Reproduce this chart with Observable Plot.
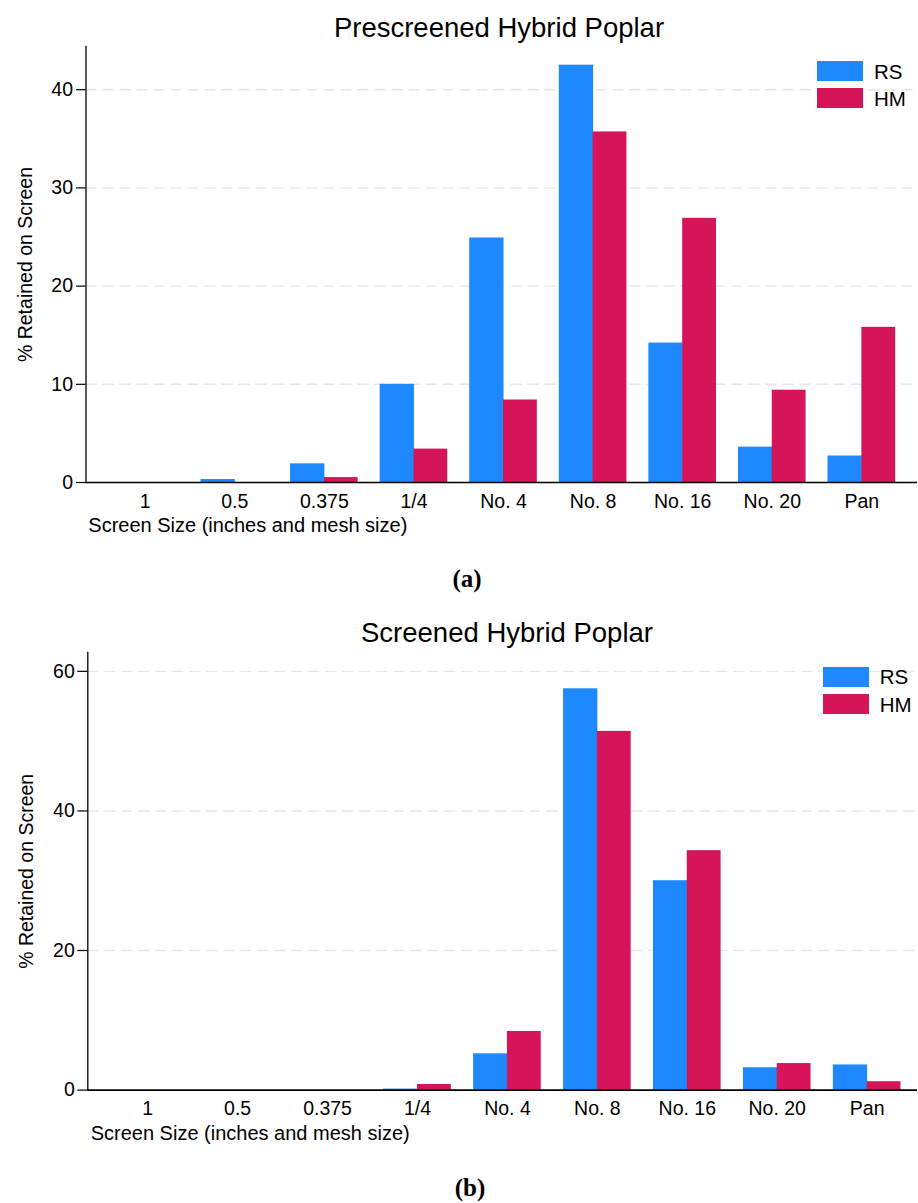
<!DOCTYPE html>
<html><head><meta charset="utf-8">
<script src="https://cdn.jsdelivr.net/npm/d3@7"></script>
<script src="https://cdn.jsdelivr.net/npm/@observablehq/plot@0.6"></script>
<style>
body{margin:0;background:#fff;}
#page{position:relative;width:918px;height:1203px;font-family:"Liberation Sans",Arial,sans-serif;color:#000;overflow:hidden;}
.abs{position:absolute;white-space:nowrap;}
.title{font-size:27.5px;line-height:27px;text-align:center;width:600px;}
.xlabel{font-size:20px;line-height:20px;}
.caption{font-family:"Liberation Serif","Times New Roman",serif;font-weight:bold;font-size:25px;line-height:25px;text-align:center;width:200px;}
.leglab{font-size:20.5px;line-height:21px;}
</style></head><body><div id="page"></div>
<script>
// ---- data ----
const categories = ["1", "0.5", "0.375", "1/4", "No. 4", "No. 8", "No. 16", "No. 20", "Pan"];
const seriesNames = ["RS", "HM"];
const seriesColors = ["#1e88ff", "#d51459"];
const prescreenedRS = [0, 0.3, 1.9, 10.0, 24.9, 42.5, 14.2, 3.6, 2.7];
const prescreenedHM = [0, 0, 0.5, 3.4, 8.4, 35.7, 26.9, 9.4, 15.8];
const screenedRS = [0, 0, 0, 0.15, 5.2, 57.5, 30.0, 3.2, 3.6];
const screenedHM = [0, 0, 0, 0.8, 8.4, 51.4, 34.3, 3.8, 1.2];
const yTicksA = [0, 10, 20, 30, 40];
const yTicksB = [0, 20, 40, 60];
const titleA = "Prescreened Hybrid Poplar";
const titleB = "Screened Hybrid Poplar";
const xLabel = "Screen Size (inches and mesh size)";
const yLabel = "% Retained on Screen";

const page = document.getElementById("page");

function addDiv(cls, text, left, top, extra) {
  const d = document.createElement("div");
  d.className = "abs " + cls;
  d.textContent = text;
  d.style.left = left + "px";
  d.style.top = top + "px";
  if (extra) Object.assign(d.style, extra);
  page.appendChild(d);
  return d;
}

function makeChart(cfg) {
  const rows = categories.flatMap((c, i) => [
    {category: c, series: seriesNames[0], value: cfg.rs[i]},
    {category: c, series: seriesNames[1], value: cfg.hm[i]}
  ]);
  const width = 918, marginRight = 1, marginTop = 2, marginBottom = 32;
  const n = categories.length;
  const step = (width - marginRight - cfg.marginLeft) / (n + 2 * cfg.paddingOuter);
  const half = step / 2;
  const barW = cfg.barW;
  const chart = Plot.plot({
    width,
    height: marginTop + cfg.plotHeight + marginBottom,
    marginTop, marginBottom, marginLeft: cfg.marginLeft, marginRight,
    style: {fontFamily: "'Liberation Sans', Arial, sans-serif", fontSize: "19.5px", color: "#000", background: "#fff", overflow: "visible"},
    x: {type: "band", domain: categories, paddingInner: 0, paddingOuter: cfg.paddingOuter, align: cfg.align, round: false},
    y: {domain: [0, cfg.yMax]},
    color: {domain: seriesNames, range: seriesColors},
    marks: [
      Plot.ruleY(cfg.yTicks.filter(v => v > 0), {stroke: "#e6e6e6", strokeWidth: 1.4, strokeDasharray: "11,6"}),
      Plot.barY(rows.filter(d => d.series === seriesNames[0]), {x: "category", y: "value", fill: "series", insetLeft: half - barW, insetRight: half - 0.5}),
      Plot.barY(rows.filter(d => d.series === seriesNames[1]), {x: "category", y: "value", fill: "series", insetLeft: half, insetRight: half - barW}),
      Plot.ruleY([0], {stroke: "#000", strokeWidth: 1.6}),
      Plot.frame({anchor: "left", stroke: "#000", strokeWidth: 1.3}),
      Plot.axisY({ticks: cfg.yTicks, tickSize: cfg.tickSize, tickPadding: cfg.tickPadding, strokeWidth: 1.2,
        label: yLabel, labelAnchor: "center", labelOffset: cfg.labelOffset, labelArrow: false}),
      Plot.axisX({tickSize: 0, tickPadding: cfg.xTickPadding, label: null})
    ]
  });
  chart.style.position = "absolute";
  chart.style.left = "0px";
  chart.style.top = (cfg.frameTop - marginTop) + "px";
  page.appendChild(chart);

  addDiv("title", cfg.title, cfg.titleCenter - 300, cfg.titleTop);
  addDiv("xlabel", xLabel, cfg.xLabelLeft, cfg.xLabelTop);
  addDiv("caption", cfg.caption, cfg.captionCenter - 100, cfg.captionTop);
  seriesNames.forEach((s, i) => {
    const sw = document.createElement("div");
    sw.className = "abs";
    Object.assign(sw.style, {left: cfg.legLeft + "px", top: cfg.legSwTops[i] + "px", width: "46px", height: "20px", background: seriesColors[i]});
    page.appendChild(sw);
    addDiv("leglab", s, cfg.legLeft + 57, cfg.legLabTops[i]);
  });
}

makeChart({
  rs: prescreenedRS, hm: prescreenedHM, yTicks: yTicksA, yMax: 44.4,
  marginLeft: 85.5, paddingOuter: 0.141, align: 0.57, barW: 33.8,
  plotHeight: 436, frameTop: 45.7,
  tickSize: 9.5, tickPadding: 3.5, labelOffset: 67.5, xTickPadding: 11.6,
  title: titleA, titleCenter: 499, titleTop: 13.7,
  xLabelLeft: 88.3, xLabelTop: 514.8,
  caption: "(a)", captionCenter: 467, captionTop: 565.8,
  legLeft: 817, legSwTops: [61, 88], legLabTops: [60.5, 88.2]
});

makeChart({
  rs: screenedRS, hm: screenedHM, yTicks: yTicksB, yMax: 62.7,
  marginLeft: 87.3, paddingOuter: 0.113, align: 0.735, barW: 33.8,
  plotHeight: 437.6, frameTop: 651.7,
  tickSize: 10, tickPadding: 3, labelOffset: 68.5, xTickPadding: 10.7,
  title: titleB, titleCenter: 507, titleTop: 618.7,
  xLabelLeft: 90.7, xLabelTop: 1123.1,
  caption: "(b)", captionCenter: 470, captionTop: 1175.1,
  legLeft: 822.7, legSwTops: [666.7, 694.3], legLabTops: [665.5, 693.9]
});
</script>
</body></html>
